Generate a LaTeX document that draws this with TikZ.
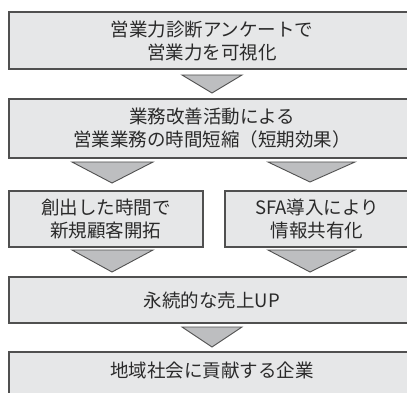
\documentclass[tikz,border=0pt]{standalone}
\usepackage{fontspec}
\newfontfamily\jp{Noto Sans CJK JP}
\definecolor{boxfill}{HTML}{E6E7E8}
\definecolor{boxline}{HTML}{505050}
\definecolor{trifill}{HTML}{BDBEC0}
\definecolor{txt}{HTML}{2A2A2A}
\begin{document}
\begin{tikzpicture}[x=1pt,y=-1pt,
  box/.style={draw=boxline,fill=boxfill,line width=1.2pt,rectangle,inner sep=0pt,
    text=txt,font=\jp\fontsize{18.5}{23}\selectfont,align=center},
  tri/.style={draw=boxline,fill=trifill,line width=0.9pt,line join=miter}]
\useasboundingbox (0,0) rectangle (407,393);
\clip (0,0) rectangle (407,393);
\node[box,minimum width=406pt,minimum height=57pt] (b1) at (212,40.5) {営業力診断アンケートで\\営業力を可視化};
\node[box,minimum width=406pt,minimum height=59pt] (b2) at (212,128.5) {業務改善活動による\\営業業務の時間短縮（短期効果）};
\node[box,minimum width=194pt,minimum height=56pt] (b3l) at (106,219) {創出した時間で\\新規顧客開拓};
\node[box,minimum width=184pt,minimum height=56pt] (b3r) at (317,219) {SFA導入により\\情報共有化};
\node[box,minimum width=406pt,minimum height=46pt] (b4) at (212,300) {永続的な売上UP};
\node[box,minimum width=406pt,minimum height=56pt] (b5) at (212,380) {};
\node[text=txt,font=\jp\fontsize{18.5}{23}\selectfont] (t5) at (212,370.5) {地域社会に貢献する企業};
% triangles
\draw[tri] (182,75) -- (242,75) -- (212,93) -- cycle;
\draw[tri] (72,162) -- (153,162) -- (112,183) -- cycle;
\draw[tri] (268,162) -- (355,162) -- (310,182) -- cycle;
\draw[tri] (72,250) -- (153,250) -- (112,272) -- cycle;
\draw[tri] (268,250) -- (355,250) -- (310,272) -- cycle;
\draw[tri] (182,327) -- (242,327) -- (212,347) -- cycle;
\end{tikzpicture}
\end{document}
